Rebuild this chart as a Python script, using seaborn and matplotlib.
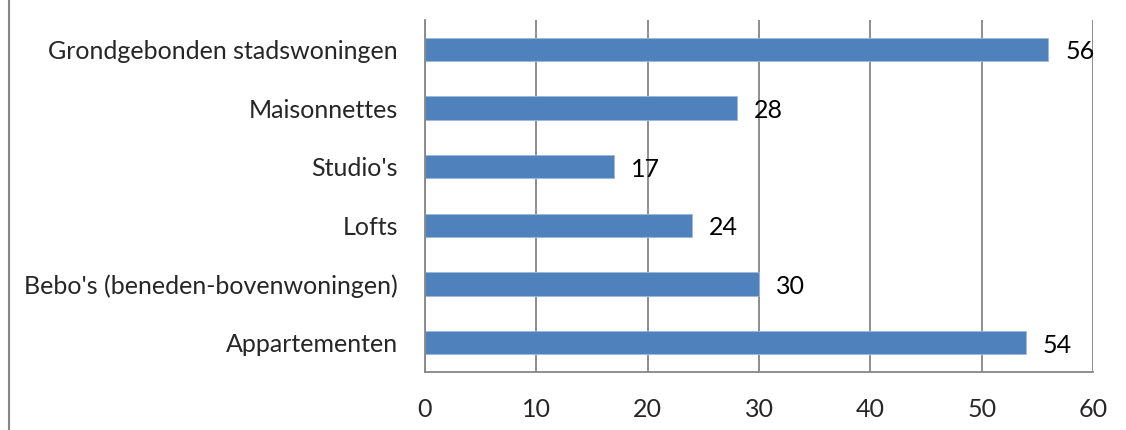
import matplotlib
matplotlib.use("Agg")
import matplotlib.pyplot as plt
import seaborn as sns
import numpy as np
from matplotlib.lines import Line2D
from matplotlib.ticker import FixedLocator

categories = ["Grondgebonden stadswoningen", "Maisonnettes", "Studio's", "Lofts",
              "Bebo's (beneden-bovenwoningen)", "Appartementen"]
values = [56, 28, 17, 24, 30, 54]
xticks = [0, 10, 20, 30, 40, 50, 60]

sns.set_style("white")
plt.rcParams['font.family'] = ['Lato', 'DejaVu Sans']

fig = plt.figure(figsize=(11.26, 4.3), dpi=100)
ax = fig.add_axes([425/1126, 1 - 372/430, (1093-425)/1126, (372-20)/430])

bar_color = "#4F81BD"
sns.barplot(x=values, y=categories, orient="h", color=bar_color, width=0.4,
            saturation=1, ax=ax, edgecolor="#9DB9DE", linewidth=0.6)

grid_c = "#868686"
fs = 18
ax.set_xlim(0, 60)
ax.set_ylim(5.5, -0.5)
ax.set_xticks(xticks)
ax.set_xticklabels([str(t) for t in xticks], fontsize=fs)
ax.tick_params(axis='x', length=8, width=1.3, color=grid_c, pad=11)
ax.tick_params(axis='y', which='major', length=0, pad=19.5, labelsize=fs)
ax.yaxis.set_minor_locator(FixedLocator(np.arange(-0.5, 6.0, 1.0)))
ax.tick_params(axis='y', which='minor', length=8, width=1.3, color=grid_c)
ax.grid(axis='x', color=grid_c, linewidth=1.3)
ax.set_axisbelow(True)
for s in ['top', 'right']:
    ax.spines[s].set_visible(False)
for s in ['left', 'bottom']:
    ax.spines[s].set_color(grid_c)
    ax.spines[s].set_linewidth(1.3)
ax.set_xlabel("")
ax.set_ylabel("")

for i, v in enumerate(values):
    ax.text(v + 1.5, i + 0.04, str(v), va='center', ha='left', fontsize=fs, color='black')

fig.add_artist(Line2D([9/1126, 9/1126], [0, 1], color=grid_c, linewidth=1.5,
                      transform=fig.transFigure))

fig.savefig("out.png", dpi=100)
